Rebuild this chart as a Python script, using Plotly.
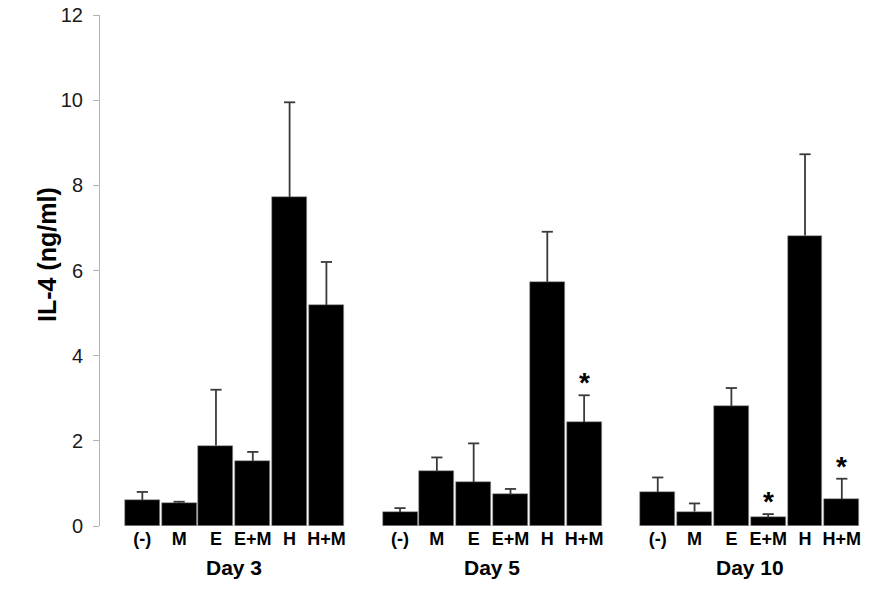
import plotly.graph_objects as go

days = ["Day 3", "Day 5", "Day 10"]
treatments = ["(-)", "M", "E", "E+M", "H", "H+M"]

day3_mean = [0.60, 0.55, 1.89, 1.53, 7.72, 5.19]
day3_err = [0.20, 0.02, 1.31, 0.21, 2.23, 1.01]
day5_mean = [0.33, 1.28, 1.03, 0.74, 5.72, 2.44]
day5_err = [0.09, 0.33, 0.91, 0.13, 1.19, 0.63]
day10_mean = [0.80, 0.34, 2.81, 0.20, 6.82, 0.63]
day10_err = [0.34, 0.19, 0.43, 0.08, 1.91, 0.48]

# significance markers: (day index, treatment index)
significant = [(1, 5), (2, 3), (2, 5)]

y_ticks = [0, 2, 4, 6, 8, 10, 12]

means = [day3_mean, day5_mean, day10_mean]
errs = [day3_err, day5_err, day10_err]

slots_per_group = len(treatments) + 1
xs, ys, es, labels = [], [], [], []
for g in range(len(days)):
    for i, t in enumerate(treatments):
        xs.append(g * slots_per_group + i)
        ys.append(means[g][i])
        es.append(errs[g][i])
        labels.append(t)

FONT = "Arial, Liberation Sans, sans-serif"
ERR_COLOR = "#3a3a3a"

fig = go.Figure()
fig.add_trace(go.Bar(
    x=xs, y=ys, width=0.95,
    marker=dict(color="black", line=dict(width=0.6, color="#9a9a9a")),
    showlegend=False, hoverinfo="skip",
))

# upward-only error bars: stems and caps
ex, ey = [], []
for x, m, e in zip(xs, ys, es):
    ex += [x, x, None]
    ey += [m, m + e, None]
fig.add_trace(go.Scatter(x=ex, y=ey, mode="lines",
                         line=dict(color=ERR_COLOR, width=1.8),
                         showlegend=False, hoverinfo="skip"))
fig.add_trace(go.Scatter(x=xs, y=[m + e for m, e in zip(ys, es)], mode="markers",
                         marker=dict(symbol="line-ew", size=8,
                                     line=dict(color=ERR_COLOR, width=1.8)),
                         showlegend=False, hoverinfo="skip"))

annotations = []
for g, d in enumerate(days):
    center = g * slots_per_group + (len(treatments) - 1) / 2
    annotations.append(dict(x=center, y=0, xref="x", yref="paper", text="<b>" + d + "</b>",
                            showarrow=False, yanchor="top", yshift=-28,
                            font=dict(family=FONT, size=21, color="black")))
for g, i in significant:
    annotations.append(dict(x=g * slots_per_group + i, y=means[g][i] + errs[g][i],
                            xref="x", yref="y", text="<b>*</b>", showarrow=False,
                            yanchor="bottom", yshift=-5,
                            font=dict(family=FONT, size=28, color="black")))
annotations.append(dict(x=-0.088, y=0.532, xref="paper", yref="paper",
                        text="<b>IL-4 (ng/ml)</b>", textangle=-90, showarrow=False,
                        font=dict(family=FONT, size=25, color="black")))

fig.update_layout(
    width=886, height=589,
    margin=dict(l=100, r=0, t=15, b=63, pad=0),
    plot_bgcolor="white", paper_bgcolor="white",
    bargap=0,
    annotations=annotations,
    xaxis=dict(range=[-1.15, 20.2], tickvals=xs, ticktext=["<b>" + l + "</b>" for l in labels],
               tickangle=0, showline=False, showgrid=False, zeroline=False, ticks="",
               tickfont=dict(family=FONT, size=18, color="black")),
    yaxis=dict(range=[0, 12], tickvals=y_ticks, showline=True, linecolor="#b3b3b3",
               linewidth=1, ticks="outside", ticklen=6, tickcolor="#b3b3b3",
               ticklabelstandoff=6, ticklabeloverflow="allow",
               showgrid=False, zeroline=False,
               tickfont=dict(family=FONT, size=20, color="#1a1a1a")),
)

fig.write_html("out.html", config={"displayModeBar": False},
               post_script="document.body.style.margin='0';")
